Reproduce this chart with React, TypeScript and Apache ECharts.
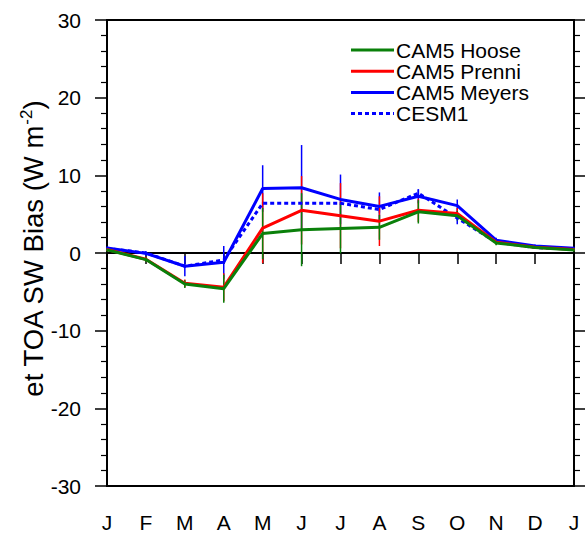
import React, { useEffect, useRef } from "react";
import * as echarts from "echarts";

// Month ticks, January through the following January
const months = ["J", "F", "M", "A", "M", "J", "J", "A", "S", "O", "N", "D", "J"];

// Monthly net TOA shortwave bias (W m-2) and spread for each run
const hooseMean = [0.4, -0.85, -4.0, -4.6, 2.5, 3.0, 3.15, 3.3, 5.3, 4.8, 1.3, 0.7, 0.4];
const hooseErr = [0.2, 0.3, 0.5, 1.8, 3.3, 4.7, 3.2, 1.6, 1.5, 0.6, 0.3, 0.2, 0.2];

const prenniMean = [0.45, -0.8, -3.9, -4.4, 3.2, 5.5, 4.8, 4.1, 5.5, 5.1, 1.4, 0.75, 0.45];
const prenniErr = [0.2, 0.3, 0.5, 1.8, 4.5, 4.4, 4.2, 3.2, 1.5, 0.7, 0.3, 0.2, 0.2];

const meyersMean = [0.65, -0.05, -1.7, -1.2, 8.3, 8.4, 6.9, 6.0, 7.3, 6.1, 1.65, 0.9, 0.6];
const meyersErr = [0.2, 0.3, 1.3, 2.1, 3.0, 5.5, 3.2, 1.8, 0.9, 0.8, 0.3, 0.2, 0.2];

const cesmMean = [0.6, 0.0, -1.7, -0.9, 6.4, 6.4, 6.4, 5.6, 7.7, 4.5, 1.4, 0.7, 0.5];
const cesmErr = [0.1, 0.1, 0.2, 0.3, 0.2, 0.2, 0.2, 0.4, 0.5, 0.8, 0.2, 0.1, 0.1];

const GREEN = "#0a800a";
const RED = "#ff0000";
const BLUE = "#0000ff";
const FONT = "Liberation Sans";

const legendRows = [
  { name: "CAM5 Hoose", color: GREEN, dashed: false },
  { name: "CAM5 Prenni", color: RED, dashed: false },
  { name: "CAM5 Meyers", color: BLUE, dashed: false },
  { name: "CESM1", color: BLUE, dashed: true },
];

function errorBars(name: string, mean: number[], err: number[], color: string, z: number) {
  return {
    name: name + " spread",
    type: "custom",
    z,
    silent: true,
    data: mean.map((m, i) => [i, m - err[i], m + err[i]]),
    encode: { x: 0, y: [1, 2] },
    renderItem: (_params: any, api: any) => {
      const i = api.value(0);
      const lo = api.coord([i, api.value(1)]);
      const hi = api.coord([i, api.value(2)]);
      return {
        type: "line",
        shape: { x1: lo[0], y1: lo[1], x2: hi[0], y2: hi[1] },
        style: { stroke: color, lineWidth: 1.5 },
      };
    },
  };
}

function meanLine(name: string, mean: number[], color: string, z: number, dashed = false, extra: any = {}) {
  return {
    name,
    type: "line",
    z,
    data: mean,
    symbol: "none",
    silent: true,
    lineStyle: { color, width: 3, type: dashed ? [4, 3] : "solid" },
    ...extra,
  };
}

export default function App() {
  const ref = useRef<HTMLDivElement>(null);

  useEffect(() => {
    if (!ref.current) return;
    const chart = echarts.init(ref.current, undefined, { renderer: "svg" });

    const legendGraphics: any[] = [];
    legendRows.forEach((row, k) => {
      const y = 50 + k * 21.2;
      legendGraphics.push({
        type: "line",
        shape: { x1: 351, y1: y, x2: 394, y2: y },
        style: { stroke: row.color, lineWidth: 3, lineDash: row.dashed ? [4, 3] : null },
        z: 100,
      });
      legendGraphics.push({
        type: "text",
        x: 396,
        y,
        style: {
          text: row.name,
          font: `21px "${FONT}"`,
          fill: "#000",
          verticalAlign: "middle",
          align: "left",
        },
        z: 100,
      });
    });

    const yAxisCommon = {
      type: "value",
      min: -30,
      max: 30,
      interval: 10,
      axisLine: { show: true, lineStyle: { color: "#000", width: 2 } },
      axisTick: { show: true, inside: false, length: 12, lineStyle: { color: "#000", width: 1.5 } },
      minorTick: { show: true, splitNumber: 5, length: 6, lineStyle: { color: "#000", width: 1.2 } },
      splitLine: { show: false },
      minorSplitLine: { show: false },
    };

    chart.setOption({
      animation: false,
      backgroundColor: "#fff",
      grid: {
        left: 107,
        right: 11,
        top: 20,
        bottom: 46,
        show: true,
        borderColor: "#000",
        borderWidth: 2,
      },
      xAxis: {
        type: "category",
        data: months,
        boundaryGap: false,
        axisLine: { show: true, lineStyle: { color: "#000", width: 2 } },
        axisTick: { show: true, inside: false, length: 11, alignWithLabel: true, lineStyle: { color: "#000", width: 1.5 } },
        axisLabel: { fontSize: 21, fontFamily: FONT, color: "#000", margin: 26, interval: 0 },
        splitLine: { show: false },
      },
      yAxis: [
        {
          ...yAxisCommon,
          position: "left",
          axisLabel: { fontSize: 21, fontFamily: FONT, color: "#000", margin: 26 },
        },
        {
          ...yAxisCommon,
          position: "right",
          axisLabel: { show: false },
        },
      ],
      graphic: [
        {
          type: "text",
          x: 33,
          y: 249,
          rotation: Math.PI / 2,
          style: {
            text: "et TOA SW Bias (W m{sup|-2})",
            font: `27.5px "${FONT}"`,
            fill: "#000",
            align: "center",
            verticalAlign: "middle",
            rich: {
              sup: { font: `17px "${FONT}"`, fill: "#000", verticalAlign: "top", padding: [0, 0, 13, 0] },
            },
          },
        },
        ...legendGraphics,
      ],
      series: [
        errorBars("CAM5 Meyers", meyersMean, meyersErr, BLUE, 2),
        errorBars("CESM1", cesmMean, cesmErr, BLUE, 3),
        errorBars("CAM5 Prenni", prenniMean, prenniErr, RED, 4),
        errorBars("CAM5 Hoose", hooseMean, hooseErr, GREEN, 5),
        meanLine("CAM5 Meyers", meyersMean, BLUE, 6),
        meanLine("CESM1", cesmMean, BLUE, 7, true),
        meanLine("CAM5 Prenni", prenniMean, RED, 8),
        meanLine("CAM5 Hoose", hooseMean, GREEN, 9, false, {
          markLine: {
            silent: true,
            symbol: ["none", "none"],
            label: { show: false },
            lineStyle: { color: "#000", width: 1.5, type: [9, 6] },
            data: [{ yAxis: 0 }],
          },
        }),
      ],
    });

    return () => chart.dispose();
  }, []);

  return (
    <div
      ref={ref}
      style={{ position: "fixed", left: 0, top: 0, width: 585, height: 533 }}
    />
  );
}
